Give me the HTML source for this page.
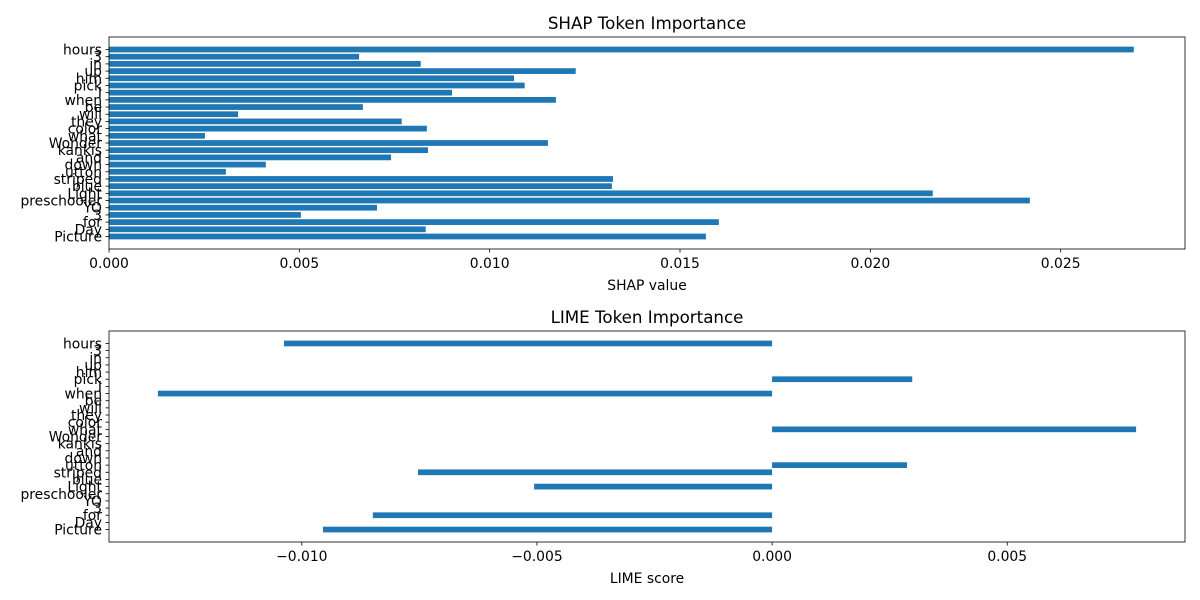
<!DOCTYPE html>
<html><head><meta charset="utf-8"><style>
body{margin:0;background:#fff}
svg{display:block;font-family:"DejaVu Sans","Liberation Sans",sans-serif}
</style></head><body>
<svg id="chart" width="1200" height="600"></svg>
<script>
const tokens=["hours","3","in","up","him","pick","I","when","be","will","they","color","what","Wonder","kankis","and","down","utton","striped","blue","Light","preschooler","YO","3","for","Day","Picture"];
const shapValues=[0.02692,0.00657,0.00819,0.01226,0.01064,0.01092,0.00901,0.01174,0.00667,0.00339,0.00769,0.00835,0.00252,0.01153,0.00838,0.00741,0.00412,0.00307,0.01324,0.01321,0.02164,0.02419,0.00704,0.00504,0.01602,0.00832,0.01568];
const limeValues=[-0.01038,0,0,0,0,0.00298,0,-0.01306,0,0,0,0,0.00774,0,0,0,0,0.00287,-0.00753,0,-0.00506,0,0,0,-0.00849,0,-0.00955];
const shapTicks=[0,0.005,0.010,0.015,0.020,0.025];
const shapTickLabels=["0.000","0.005","0.010","0.015","0.020","0.025"];
const limeTicks=[-0.010,-0.005,0,0.005];
const limeTickLabels=["\u22120.010","\u22120.005","0.000","0.005"];

const svg=document.getElementById('chart');
const NS="http://www.w3.org/2000/svg";
function mk(tag,attrs,parent){const e=document.createElementNS(NS,tag);for(const k in attrs)e.setAttribute(k,attrs[k]);(parent||svg).appendChild(e);return e;}

function panel(left,right,top,bottom,values,ticks,tickLabels,title,xlabel,name){
  const g=mk('g',{});
  
  
  const mn=Math.min(0,...values),mx=Math.max(0,...values);
  const pad=(mx-mn)*0.05;
  const x0=mn<0?mn-pad:0, x1=mx+pad;
  const xs=v=>left+(v-x0)/(x1-x0)*(right-left);
  const n=values.length;
  const m=(n-0.2)*0.05;
  const lo=-0.4-m, hi=n-1+0.4+m;
  const ys=i=>{const pos=n-1-i;return bottom-(pos-lo)/(hi-lo)*(bottom-top);};
  const bh=0.8*(bottom-top)/(hi-lo);
  values.forEach((v,i)=>{
    const a=xs(0),b=xs(v);
    const r=mk('rect',{x:Math.min(a,b),y:ys(i)-bh/2,width:Math.abs(b-a),height:bh,fill:'#1f77b4'},g);
    
    
  });
  const fr=mk('rect',{x:left,y:top,width:right-left,height:bottom-top,fill:'none',stroke:'#000','stroke-width':0.8},g);
  
  
  tokens.forEach((t,i)=>{
    const y=ys(i);
    mk('line',{x1:left-3.5,x2:left,y1:y,y2:y,stroke:'#000','stroke-width':0.8},g);
    const tx=mk('text',{x:left-7,y:y+5,'text-anchor':'end','font-size':13.9,fill:'#000'},g);
    tx.textContent=t;
    
    
  });
  ticks.forEach((t,i)=>{
    const x=xs(t);
    mk('line',{x1:x,x2:x,y1:bottom,y2:bottom+3.5,stroke:'#000','stroke-width':0.8},g);
    const tx=mk('text',{x:x,y:bottom+19,'text-anchor':'middle','font-size':13.9,fill:'#000'},g);
    tx.textContent=tickLabels[i];
    
    
  });
  const tt=mk('text',{x:(left+right)/2,y:top-8,'text-anchor':'middle','font-size':16.7,fill:'#000'},g);
  tt.textContent=title;
  
  
  const xl=mk('text',{x:(left+right)/2,y:bottom+41,'text-anchor':'middle','font-size':13.9,fill:'#000'},g);
  xl.textContent=xlabel;
  
  
}
panel(109,1185,37,249,shapValues,shapTicks,shapTickLabels,"SHAP Token Importance","SHAP value","shap");
panel(109,1185,331,542,limeValues,limeTicks,limeTickLabels,"LIME Token Importance","LIME score","lime");
</script>
</body></html>
